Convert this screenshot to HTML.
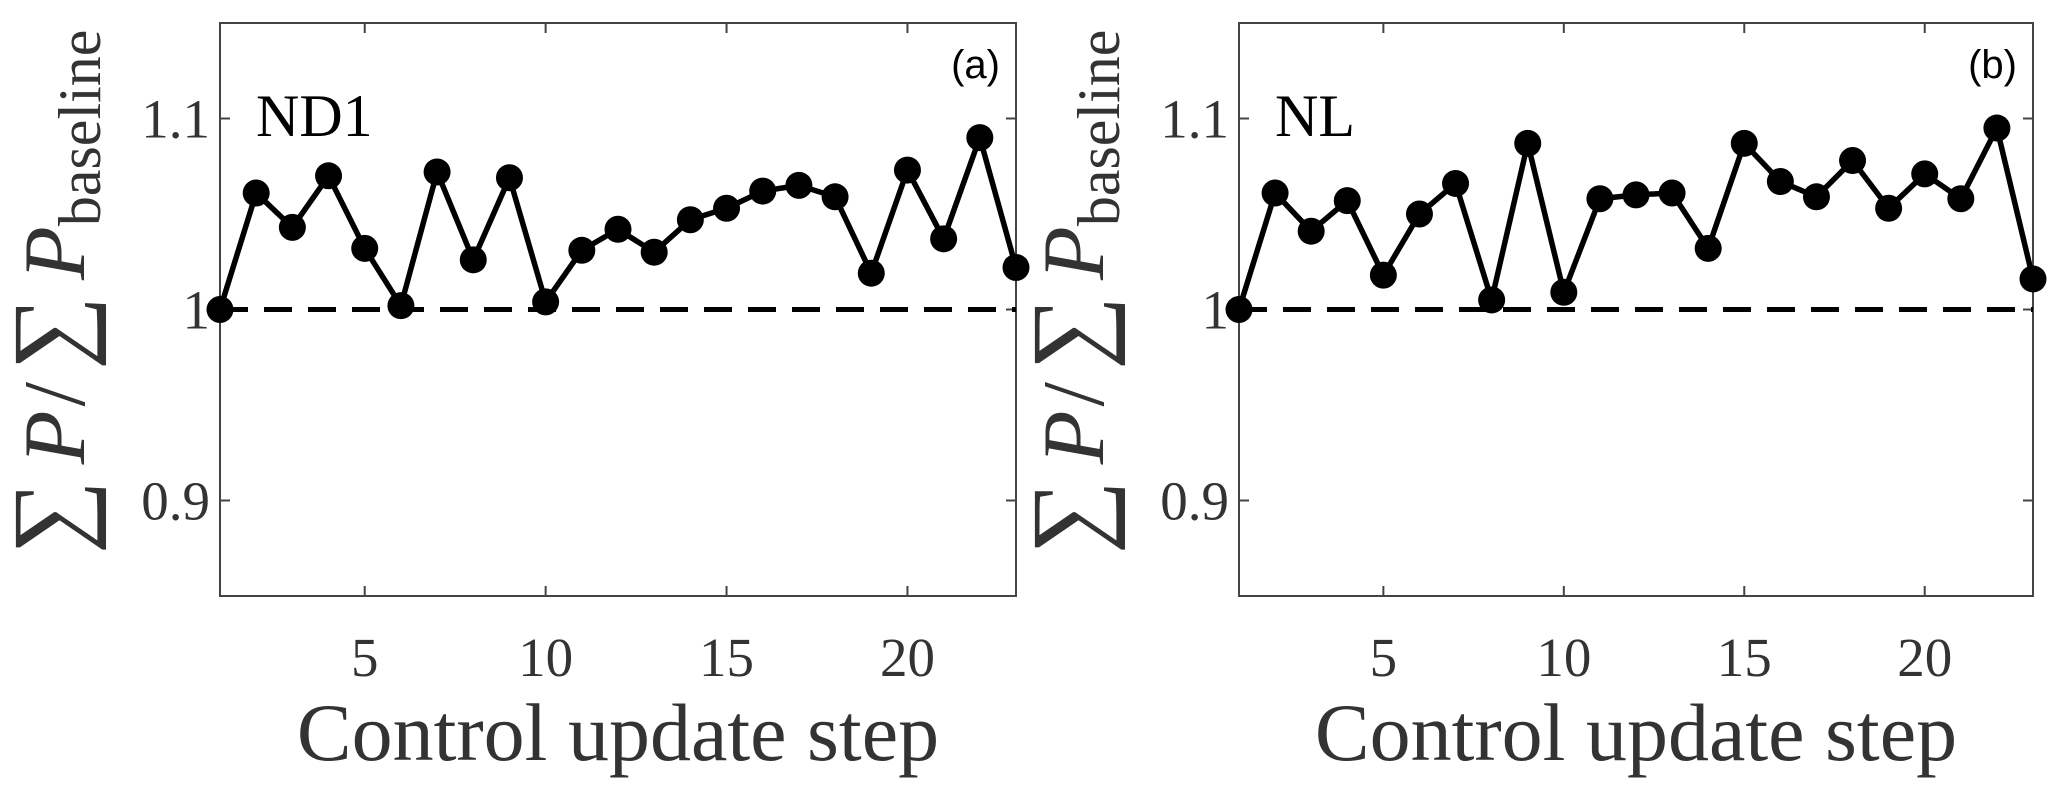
<!DOCTYPE html>
<html><head><meta charset="utf-8"><style>
body{margin:0;background:#fff}
svg{display:block}
.tk{font-family:"Liberation Serif",serif;font-size:55px;fill:#333}
.xl{font-family:"Liberation Serif",serif;font-size:82px;fill:#333}
</style></head><body>
<svg id="c" width="2068" height="798" xmlns="http://www.w3.org/2000/svg"></svg>
<script>
const steps = [1,2,3,4,5,6,7,8,9,10,11,12,13,14,15,16,17,18,19,20,21,22,23];
const seriesND1 = [1.000,1.061,1.043,1.070,1.032,1.002,1.072,1.026,1.069,1.004,1.031,1.042,1.030,1.047,1.053,1.062,1.065,1.059,1.019,1.073,1.037,1.090,1.022];
const seriesNL = [1.000,1.061,1.041,1.057,1.018,1.050,1.066,1.005,1.087,1.009,1.058,1.060,1.061,1.032,1.087,1.067,1.059,1.078,1.053,1.071,1.058,1.095,1.016];
const xTicks = [5,10,15,20];
const yTicks = [0.9,1.0,1.1];
const yTickLabels = ["0.9","1","1.1"];
const panelNames = ["ND1","NL"];
const panelTags = ["(a)","(b)"];
const NS="http://www.w3.org/2000/svg";
const svg=document.getElementById('c');
function mk(t,a,p){const e=document.createElementNS(NS,t);for(const k in a)e.setAttribute(k,a[k]);(p||svg).appendChild(e);return e;}
const panels=[{l:220,r:1016,s:seriesND1},{l:1239,r:2033,s:seriesNL}];
const T=23,B=596;
panels.forEach((p,i)=>{
  const g=mk('g',{});
  
  
  const xs=v=>p.l+(v-1)/22*(p.r-p.l);
  const ys=v=>T+(1.15-v)/0.3*(B-T);
  const box=mk('rect',{x:p.l,y:T,width:p.r-p.l,height:B-T,fill:'none',stroke:'#444','stroke-width':2},g);
  
  
  xTicks.forEach(v=>{
    const x=xs(v);
    mk('line',{x1:x,x2:x,y1:B,y2:B-10,stroke:'#444','stroke-width':2},g);
    mk('line',{x1:x,x2:x,y1:T,y2:T+10,stroke:'#444','stroke-width':2},g);
    const t=mk('text',{x:x,y:676,'text-anchor':'middle',class:'tk'},g);t.textContent=v;
    
    
  });
  yTicks.forEach((v,j)=>{
    const y=ys(v);
    mk('line',{x1:p.l,x2:p.l+10,y1:y,y2:y,stroke:'#444','stroke-width':2},g);
    mk('line',{x1:p.r,x2:p.r-10,y1:y,y2:y,stroke:'#444','stroke-width':2},g);
    const t=mk('text',{x:p.l-10,y:y+19,'text-anchor':'end',class:'tk'},g);t.textContent=yTickLabels[j];
    
    
  });
  const d=mk('line',{x1:p.l,x2:p.r,y1:ys(1),y2:ys(1),stroke:'#000','stroke-width':5,'stroke-dasharray':'28 16'},g);
  
  
  const pl=mk('polyline',{points:steps.map((s,k)=>xs(s)+','+ys(p.s[k])).join(' '),fill:'none',stroke:'#000','stroke-width':5.5,'stroke-linejoin':'round'},g);
  
  
  steps.forEach((s,k)=>{
    const c=mk('circle',{cx:xs(s),cy:ys(p.s[k]),r:13.5,fill:'#000'},g);
    
    
  });
  const n=mk('text',{x:p.l+36,y:136,'font-family':'"Liberation Serif",serif','font-size':60,fill:'#000'},g);n.textContent=panelNames[i];
  
  
  const tg=mk('text',{x:p.r-16,y:78,'text-anchor':'end','font-family':'"Liberation Sans",sans-serif','font-size':40,fill:'#000'},g);tg.textContent=panelTags[i];
  
  
  const xl=mk('text',{x:(p.l+p.r)/2,y:760,'text-anchor':'middle',class:'xl'},g);xl.textContent='Control update step';
  
  
  const yl=mk('text',{transform:`translate(${p.l-136},292) rotate(-90)`,'text-anchor':'middle','font-family':'"Liberation Serif",serif','font-size':88,fill:'#333'},g);
  yl.innerHTML='<tspan font-size="104">∑</tspan><tspan font-style="italic" dx="16">P</tspan><tspan dx="4">/</tspan><tspan font-size="104" dx="12">∑</tspan><tspan font-style="italic" dx="16">P</tspan><tspan font-size="60" dy="16">baseline</tspan>';
  
  
});
</script>
</body></html>
